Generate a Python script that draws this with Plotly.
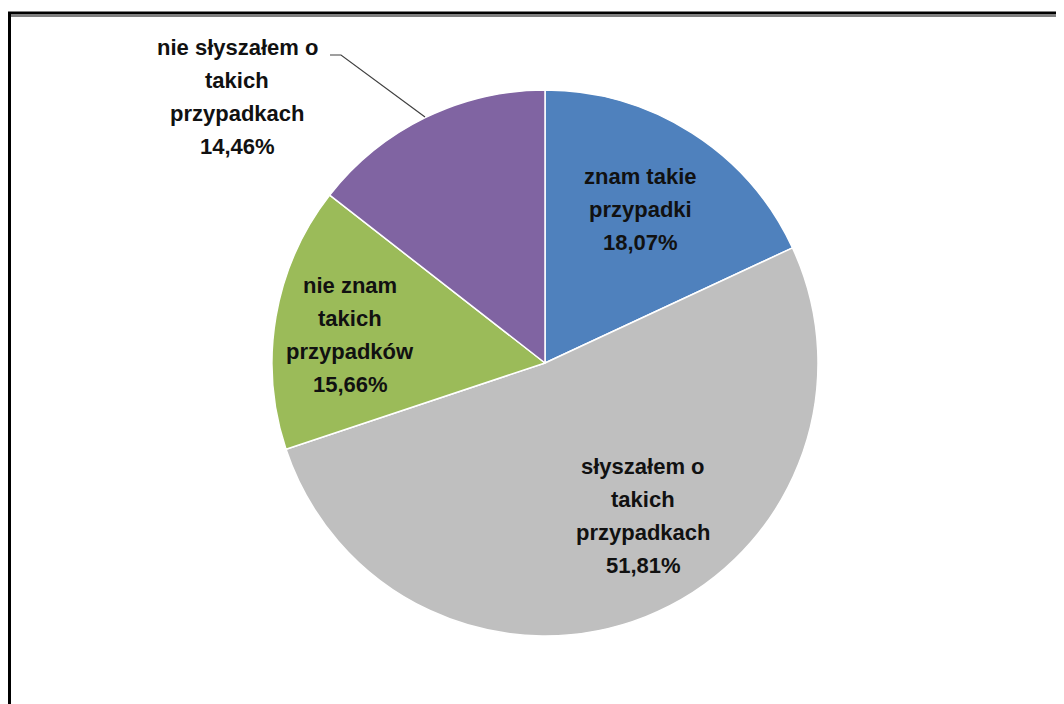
import plotly.graph_objects as go

# ---- data ----
categories = ["znam takie przypadki", "słyszałem o takich przypadkach",
              "nie znam takich przypadków", "nie słyszałem o takich przypadkach"]
label_lines = [["znam takie", "przypadki"],
               ["słyszałem o", "takich", "przypadkach"],
               ["nie znam", "takich", "przypadków"],
               ["nie słyszałem o", "takich", "przypadkach"]]
values = [18.07, 51.81, 15.66, 14.46]
colors = ["#4F81BD", "#BFBFBF", "#9BBB59", "#8064A2"]

W, H = 1064, 704
OFF = 8  # page body margin offset
def px(x):
    return (x - OFF) / W
def py(y):
    return 1 - (y - OFF) / H

fig = go.Figure()
fig.add_trace(go.Pie(
    labels=categories, values=values, sort=False, direction="clockwise",
    rotation=0, marker=dict(colors=colors, line=dict(color="white", width=1.5)),
    textinfo="none", hoverinfo="label+percent", showlegend=False,
    domain=dict(x=[px(272), px(818)], y=[py(636), py(90)]),
))

# label centres (pixels) for each slice's text block
label_pos = [(640, 209), (643, 516), (350, 335), (237, 97)]
line_gap = 33
annotations = []
for lines, v, (cx, cy) in zip(label_lines, values, label_pos):
    all_lines = lines + [f"{v:.2f}".replace(".", ",") + "%"]
    n = len(all_lines)
    for i, t in enumerate(all_lines):
        yy = cy + (i - (n - 1) / 2) * line_gap
        annotations.append(dict(
            x=px(cx), y=py(yy), xref="paper", yref="paper", text=f"<b>{t}</b>",
            showarrow=False, xanchor="center", yanchor="middle",
            font=dict(family="Liberation Sans, Arial, sans-serif", size=22, color="#111111"),
        ))

shapes = [
    # leader line for the small label
    dict(type="path", xref="paper", yref="paper",
         path=f"M {px(330)},{py(55)} L {px(341)},{py(55)} L {px(425)},{py(117)}",
         line=dict(color="#404040", width=1.2)),
    # frame: thick outer top and left, thin inner top
    dict(type="line", xref="paper", yref="paper", x0=px(7), x1=1, y0=py(13), y1=py(13),
         line=dict(color="black", width=3)),
    dict(type="line", xref="paper", yref="paper", x0=px(10), x1=1, y0=py(16), y1=py(16),
         line=dict(color="black", width=1.2)),
    dict(type="line", xref="paper", yref="paper", x0=px(9), x1=px(9), y0=py(12), y1=0,
         line=dict(color="black", width=4)),
]

fig.update_layout(
    width=W, height=H, margin=dict(l=0, r=0, t=0, b=0),
    paper_bgcolor="white", plot_bgcolor="white",
    annotations=annotations, shapes=shapes,
)
fig.write_html("out.html")
